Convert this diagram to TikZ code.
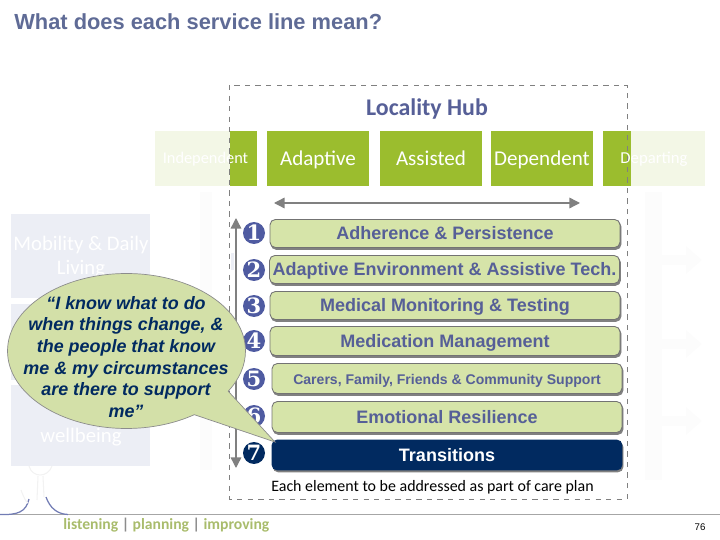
\documentclass[tikz,border=0pt]{standalone}
\usepackage{fontspec}
\setmainfont{Liberation Sans}
\newfontfamily\calibri{Carlito}
\newfontfamily\numfont{DejaVu Serif}
\usetikzlibrary{shapes.callouts,arrows.meta}
\definecolor{titleblue}{HTML}{5F6B96}
\definecolor{hubblue}{HTML}{565F97}
\definecolor{leafgreen}{HTML}{9BBD2E}
\definecolor{palegreen}{HTML}{F3F7E6}
\definecolor{palegrey}{HTML}{ECEEF5}
\definecolor{barfill}{HTML}{D6E4A9}
\definecolor{navy}{HTML}{012A60}
\definecolor{numblue}{HTML}{4F5BA1}
\definecolor{bubblefill}{HTML}{D3E0A8}
\definecolor{olive}{HTML}{A9BC6C}
\tikzset{
	stagebox/.style={fill=leafgreen,minimum width=2.04cm,minimum height=1.1cm,inner sep=0,text=white,text height=9.7pt,text depth=2pt,font=\calibri\fontsize{12}{14}\selectfont},
	linebar/.style={rounded corners=3pt,draw=black!55,fill=barfill,line width=.5pt,minimum width=7cm,minimum height=.58cm,inner sep=0,text=hubblue,text height=8.3pt,text depth=1.2pt,
		preaction={draw=black!50,fill=black!50,line width=.5pt,transform canvas={xshift=.6pt,yshift=-1.1pt}}},
	numdot/.style={circle,fill=numblue,minimum size=.44cm,inner sep=0,text=white,font=\numfont\bfseries\fontsize{12}{12}\selectfont},
	sidebox/.style={fill=palegrey,minimum width=2.78cm,inner sep=0},
	sidetext/.style={text=white,align=center,font=\calibri\fontsize{11.8}{13.2}\selectfont},
	tipline/.style={draw=black!50,line width=.8pt,{Triangle[length=6pt,width=6pt]}-{Triangle[length=6pt,width=6pt]}},
}
\begin{document}
\begin{tikzpicture}[x=.02cm,y=-.02cm]
	\useasboundingbox (0,0) rectangle (720,540);
	\node[anchor=west,inner sep=0,text=titleblue,font=\bfseries\fontsize{12.43}{14}\selectfont] (title) at (14,22) {What does each service line mean?};

	% faint background
	\fill[black!1] (200,192) rectangle (212,470);
	\fill[black!1] (645,192) rectangle (662,480);
	\foreach \y in {260,344,421} {
		\fill[black!1] (662,\y-5) -- (686,\y-5) -- (686,\y-14) -- (702,\y) -- (686,\y+14) -- (686,\y+5) -- (662,\y+5) -- cycle;
	}
	\fill[palegrey] (231,253) rectangle (233.5,270);

	% stages
	\node[stagebox] (independent) at (206,158.5) {};
	\fill[palegreen] (155,131) rectangle (229.5,186);
	\node[text=white,font=\calibri\fontsize{9.3}{12}\selectfont] (independentlabel) at (205.5,159) {Independent};
	\node[stagebox] (adaptive) at (318,158.5) {Adaptive};
	\node[stagebox] (assisted) at (431,158.5) {Assisted};
	\node[stagebox] (dependent) at (542,158.5) {Dependent};
	\node[stagebox] (departing) at (654,158.5) {};
	\fill[palegreen] (631,131) rectangle (705,186);
	\node[text=white,font=\calibri\fontsize{9.5}{10}\selectfont] (departinglabel) at (654,159) {Departing};

	% hub frame
	\draw[dashed,draw=black!50,line width=.4pt] (229.5,85) rectangle (627,499);
	\node[text=hubblue,font=\calibri\bfseries\fontsize{13.6}{14}\selectfont] (hub) at (427,109) {Locality Hub};

	\coordinate (stagestart) at (274,203);
	\coordinate (stageend) at (580,203);
	\draw[tipline] (stagestart) -- (stageend);
	\coordinate (stepstart) at (236,218);
	\coordinate (stepend) at (236,468);
	\draw[tipline] (stepstart) -- (stepend);

	% left column
	\node[sidebox,minimum height=1.68cm] (mobility) at (80.5,256) {};
	\node[sidebox,minimum height=1.52cm] (middle) at (80.5,342) {};
	\node[sidebox,minimum height=1.62cm] (wellbeing) at (80.5,425.5) {};
	\node[sidetext] (mobilitylabel) at (81,257) {Mobility \& Daily\\Living};
	\node[sidetext] (wellbeinglabel) at (81,437) {wellbeing};

	% service lines
	\foreach \i/\x/\y/\h/\txt/\fs in {
		1/445/233.5/.56/Adherence \& Persistence/10.25,
		2/444.5/269.5/.56/Adaptive Environment \& Assistive Tech./10.25,
		3/445/305.5/.56/Medical Monitoring \& Testing/10.25,
		4/445/341/.58/Medication Management/10.25,
		5/447/378.5/.6/{Carers, Family, Friends \& Community Support}/8,
		6/447/417/.62/Emotional Resilience/10.25} {
		\node[linebar,minimum height=\h cm,font=\bfseries\fontsize{\fs}{11}\selectfont] (line\i) at (\x,\y) {\txt};
	}
	\node[linebar,fill=navy,draw=navy,minimum height=.6cm,text=white,font=\bfseries\fontsize{10.25}{11}\selectfont] (line7) at (447,455) {Transitions};
	\foreach \i/\y in {1/233,2/270,3/306,4/341,5/379,6/416} {
		\node[numdot] (num\i) at (254,\y) {\i};
	}
	\node[numdot,fill=navy] (num7) at (254,453) {7};
	\node[text=black,font=\calibri\fontsize{9.07}{12}\selectfont] (carenote) at (432.5,487) {Each element to be addressed as part of care plan};

	% speech bubble
	\node[ellipse callout,draw=black!45,fill=bubblefill,line width=.4pt,minimum width=4.76cm,minimum height=3.1cm,inner sep=0,
		callout absolute pointer={(275,442)},callout pointer arc=24] (bubble) at (126.5,351) {};
	\node[align=center,text=navy,font=\bfseries\itshape\fontsize{10.2}{12.3}\selectfont] (bubbletext) at (126,357)
		{“I know what to do\\when things change, \&\\the people that know\\me \& my circumstances\\are there to support\\me”};

	% footer
	\coordinate (footleft) at (0,514.5);
	\coordinate (footright) at (720,514.5);
	\draw[draw=black!35,line width=.8pt] (footleft) -- (footright);
	\draw[draw=numblue!80,line width=.7pt] (0,514.5) .. controls (18,515) and (26,512) .. (29,499);
	\draw[draw=numblue!80,line width=.7pt] (46,497) .. controls (50,508) and (57,514) .. (68,514.5);
	\draw[draw=black!5,line width=.6pt] (37,500) -- (38,476);
	\draw[draw=black!5,line width=.6pt] (44,497) -- (43,476);
	\draw[draw=black!5,line width=.6pt] (29,466) .. controls (32,478) and (48,478) .. (52,466);
	\draw[draw=black!5,line width=.6pt] (21,490) .. controls (24,498) and (26,502) .. (28,503);
	\node[anchor=west,inner sep=0,font=\calibri\bfseries\fontsize{8.9}{12}\selectfont,text=olive] (strap) at (63,525)
		{listening {\color{black!45}|} planning {\color{black!45}|} improving};
	\node[font=\fontsize{5.5}{7}\selectfont] (pagenum) at (700,527) {76};
\end{tikzpicture}
\end{document}
